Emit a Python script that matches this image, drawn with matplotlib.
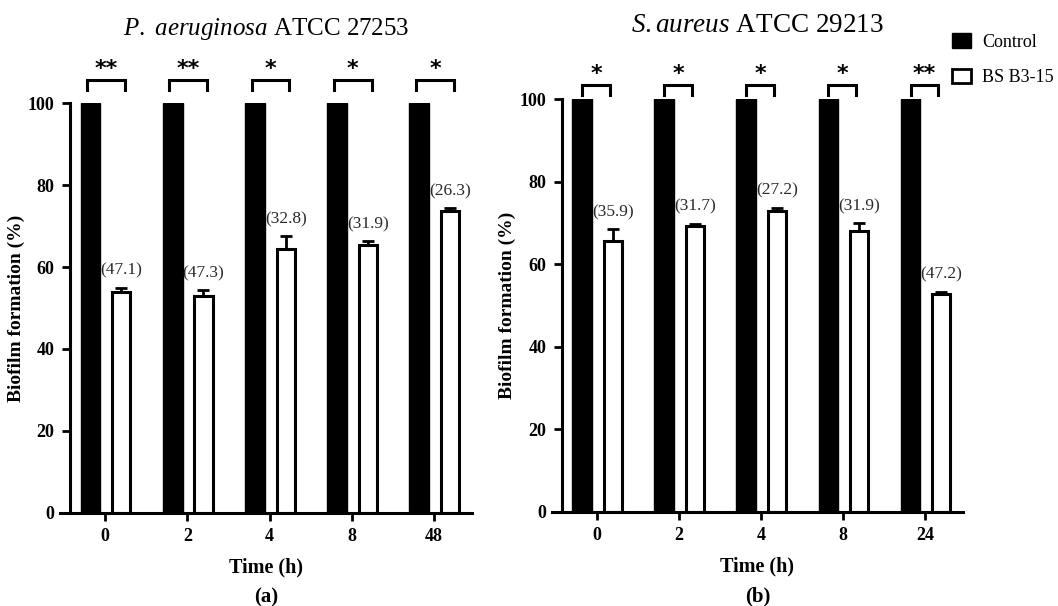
import matplotlib
matplotlib.use("Agg")
import matplotlib.pyplot as plt
from matplotlib.patches import Patch
import numpy as np

# dati
times_a = ["0", "2", "4", "8", "48"]
control_a = [100, 100, 100, 100, 100]
bs_a = [53.8, 53.0, 64.5, 65.3, 73.7]
err_a = [1.2, 1.3, 3.0, 1.0, 0.6]
inhib_a = ["(47.1)", "(47.3)", "(32.8)", "(31.9)", "(26.3)"]
stars_a = ["**", "**", "*", "*", "*"]

times_b = ["0", "2", "4", "8", "24"]
control_b = [100, 100, 100, 100, 100]
bs_b = [65.6, 69.2, 72.9, 67.9, 52.7]
err_b = [2.8, 0.6, 0.7, 2.0, 0.6]
inhib_b = ["(35.9)", "(31.7)", "(27.2)", "(31.9)", "(47.2)"]
stars_b = ["*", "*", "*", "*", "**"]

plt.rcParams['font.family'] = ['Liberation Serif', 'DejaVu Serif']
plt.rcParams['mathtext.fontset'] = 'custom'
plt.rcParams['mathtext.it'] = 'Liberation Serif:italic'
plt.rcParams['mathtext.rm'] = 'Liberation Serif'

fig = plt.figure(figsize=(10.58, 6.06), dpi=100)
ax1 = fig.add_axes([0.0567, 0.1535, 0.3894, 0.6765])
ax2 = fig.add_axes([0.5215, 0.1556, 0.3888, 0.681])

lw = 2.2


def pannello(ax, times, control, bs, err, inhib, stars, br, title, lettera, title_size, title_pad):
    x = np.arange(len(times))
    ax.bar(x - 0.18, control, width=0.24, color="black", edgecolor="black", linewidth=1)
    ax.bar(x + 0.195, bs, width=0.22, color="white", edgecolor="black", linewidth=lw)
    ax.errorbar(x + 0.195, bs, yerr=[np.zeros(len(err)), err], fmt="none",
                ecolor="black", elinewidth=2, capsize=4, capthick=2)
    for i in range(len(x)):
        ax.text(x[i] + 0.195, bs[i] + err[i] + 2.2, inhib[i], ha="center", va="bottom",
                fontsize=12.5, color="#2a2a2a")
        # parentesi di significatività
        ax.plot([x[i] + br[0], x[i] + br[0], x[i] + br[1], x[i] + br[1]],
                [br[2], br[3], br[3], br[2]], color="black", lw=2.2, clip_on=False,
                solid_joinstyle="miter")
        ax.text(x[i] + (br[0] + br[1]) / 2, br[3] + 2.6, stars[i], ha="center", va="center",
                fontsize=16, fontweight="bold", family="DejaVu Sans")

    ax.set_xlim(-0.55, 4.46)
    ax.set_ylim(0, 100)
    ax.spines["top"].set_visible(False)
    ax.spines["right"].set_visible(False)
    ax.spines["left"].set_position(("data", -0.43))
    ax.spines["left"].set_linewidth(lw)
    ax.spines["bottom"].set_linewidth(lw)
    ax.set_xticks(x)
    ax.set_xticklabels(times)
    ax.set_yticks([0, 20, 40, 60, 80, 100])
    ax.tick_params(axis="both", width=2, length=6, labelsize=13, pad=5)
    for lab in ax.get_xticklabels() + ax.get_yticklabels():
        lab.set_fontweight("bold")
    ax.set_ylabel("Biofilm formation (%)", fontsize=14, fontweight="bold")
    ax.set_xlabel("Time (h)", fontsize=14.5, fontweight="bold", labelpad=9)
    ax.text(0.5, -0.205, lettera, transform=ax.transAxes, ha="center", va="center",
            fontsize=15, fontweight="bold")
    ax.set_title(title, fontsize=title_size, pad=title_pad)


pannello(ax1, times_a, control_a, bs_a, err_a, inhib_a, stars_a, (-0.22, 0.24, 103.2, 105.6),
         r"$\it{P.}$ $\it{aeruginosa}$ ATCC 27253", "(a)", 18, 49)
pannello(ax2, times_b, control_b, bs_b, err_b, inhib_b, stars_b, (-0.18, 0.16, 101.0, 103.4),
         r"$\it{S.aureus}$ ATCC 29213", "(b)", 19.5, 48)

# posizione delle etichette dell'asse y
ax1.yaxis.set_label_coords(-0.085, 0.5)
ax2.yaxis.set_label_coords(-0.088, 0.5)

handles = [Patch(facecolor="black", edgecolor="black"),
           Patch(facecolor="white", edgecolor="black", linewidth=2)]
fig.legend(handles, ["Control", "BS B3-15"], loc="upper left",
           bbox_to_anchor=(0.884, 0.972), frameon=False, fontsize=13,
           handlelength=1.1, handleheight=0.85, labelspacing=1.0, handletextpad=0.6)

fig.savefig("out.png", dpi=100)
